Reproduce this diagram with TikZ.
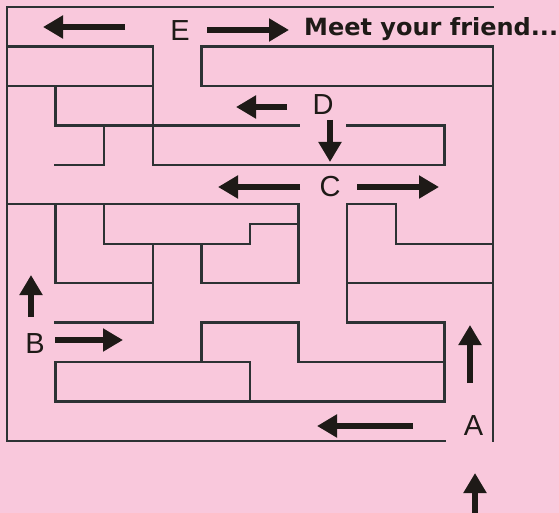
\documentclass[tikz,border=0pt]{standalone}
\usepackage{fontspec}
\setmainfont{Liberation Sans}
\newfontfamily\meetfont{DejaVu Sans}
\usetikzlibrary{arrows.meta}
\definecolor{bgpink}{RGB}{249,200,220}
\definecolor{wallc}{RGB}{45,50,52}
\definecolor{arrc}{RGB}{30,26,23}
\tikzset{
  wall/.style={draw=wallc, line width=2.4pt, line cap=rect, line join=miter},
  bigarrow/.style={draw=arrc, line width=5.2pt, -{Triangle[length=20pt,width=22pt]}},
  letter/.style={inner sep=0pt, text=arrc, font=\fontsize{29}{29}\selectfont}
}
\begin{document}
\begin{tikzpicture}[x=1pt,y=-1pt]
\fill[bgpink] (0,0) rectangle (559,513);
\useasboundingbox (0,0) rectangle (559,513);
% maze walls, grid units
\begin{scope}[shift={(7,7)}, x=48.6pt, y=-39.45pt]
  \draw[wall] (10,0) -- (0,0) -- (0,11) -- (9,11);
  \draw[wall] (10,1) -- (10,11);
  \draw[wall] (0,1) -- (3,1) -- (3,4) -- (9,4) -- (9,3) -- (7,3);
  \draw[wall] (0,2) -- (3,2);
  \draw[wall] (1,2) -- (1,3) -- (3,3) -- (6,3);
  \draw[wall] (2,3) -- (2,4) -- (1,4);
  \draw[wall] (10,1) -- (4,1) -- (4,2) -- (10,2);
  \draw[wall] (0,5) -- (6,5) -- (6,7) -- (4,7) -- (4,6);
  \draw[wall] (1,5) -- (1,7) -- (3,7);
  \draw[wall] (2,5) -- (2,6) -- (5,6) -- (5,5.5) -- (6,5.5);
  \draw[wall] (3,6) -- (3,8) -- (1,8);
  \draw[wall] (10,6) -- (8,6) -- (8,5) -- (7,5) -- (7,8) -- (9,8) -- (9,10) -- (1,10) -- (1,9) -- (5,9) -- (5,10);
  \draw[wall] (7,7) -- (10,7);
  \draw[wall] (4,9) -- (4,8) -- (6,8) -- (6,9) -- (9,9);
\end{scope}
% labels
\node[letter] (E) at (180,30.5) {E};
\node[letter] (D) at (323,105) {D};
\node[letter] (C) at (330,187) {C};
\node[letter] (B) at (35,343.5) {B};
\node[letter] (A) at (473.5,425.5) {A};
\node[anchor=base west, inner sep=0pt, text=arrc] (meet) at (304,36)
  {\resizebox{254pt}{18pt}{\meetfont\bfseries Meet your friend...}};
% arrows
\coordinate (e1s) at (125,27); \coordinate (e1t) at (43,27);
\draw[bigarrow] (e1s) -- (e1t);
\coordinate (e2s) at (207,30); \coordinate (e2t) at (289,30);
\draw[bigarrow] (e2s) -- (e2t);
\coordinate (d1s) at (287,107); \coordinate (d1t) at (236,107);
\draw[bigarrow] (d1s) -- (d1t);
\coordinate (d2s) at (330,120); \coordinate (d2t) at (330,162);
\draw[bigarrow] (d2s) -- (d2t);
\coordinate (c1s) at (300,187); \coordinate (c1t) at (218,187);
\draw[bigarrow] (c1s) -- (c1t);
\coordinate (c2s) at (357,187); \coordinate (c2t) at (439,187);
\draw[bigarrow] (c2s) -- (c2t);
\coordinate (b1s) at (31,317); \coordinate (b1t) at (31,275);
\draw[bigarrow] (b1s) -- (b1t);
\coordinate (b2s) at (55,340); \coordinate (b2t) at (123,340);
\draw[bigarrow] (b2s) -- (b2t);
\coordinate (a1s) at (470,383); \coordinate (a1t) at (470,325);
\draw[bigarrow] (a1s) -- (a1t);
\coordinate (a2s) at (413,426); \coordinate (a2t) at (317,426);
\draw[bigarrow] (a2s) -- (a2t);
\coordinate (a3s) at (475,513); \coordinate (a3t) at (475,473);
\draw[bigarrow] (a3s) -- (a3t);
\end{tikzpicture}
\end{document}
